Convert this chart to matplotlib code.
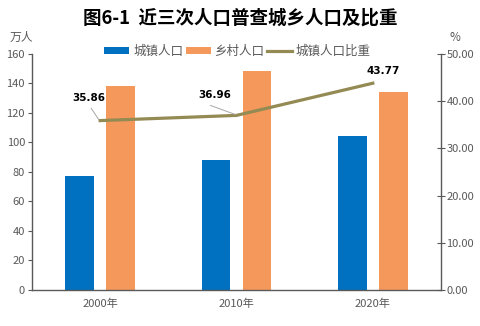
import numpy as np
import matplotlib
matplotlib.use('Agg')
from matplotlib import pyplot as plt

plt.rcParams['font.family'] = ['Noto Sans CJK SC', 'DejaVu Sans']

# data
years = ['2000年', '2010年', '2020年']
urban = [77.2, 87.8, 104.0]
rural = [138.0, 148.6, 133.8]
urban_share = [35.86, 36.96, 43.77]

blue = '#0070C0'
orange = '#F4995B'
olive = '#948A54'
grey = '#595959'

fig = plt.figure(figsize=(4.8, 3.26), dpi=100)
ax = fig.add_axes([0.0667, 0.1104, 0.852, 0.7246])
ax2 = ax.twinx()

x = np.arange(len(years))
w = 0.21
b1 = ax.bar(x - 0.15, urban, w, color=blue, label='城镇人口')
b2 = ax.bar(x + 0.15, rural, w, color=orange, label='乡村人口')
ln, = ax2.plot(x, urban_share, color=olive, lw=2.3, label='城镇人口比重')

ax.set_xlim(-0.5, 2.5)
ax.set_ylim(0, 160)
ax.set_yticks(range(0, 161, 20))
ax2.set_ylim(0, 50)
ax2.set_yticks(range(0, 51, 10))
ax2.set_yticklabels([f'{v:.2f}' for v in range(0, 51, 10)])
ax.set_xticks(x)
ax.set_xticklabels(years)

for a in (ax, ax2):
    a.spines['top'].set_visible(False)
    for s in a.spines.values():
        s.set_color(grey)
        s.set_linewidth(1.0)
ax.spines['right'].set_visible(False)
ax2.spines['left'].set_visible(False)
ax2.spines['bottom'].set_visible(False)
ax.tick_params(axis='y', direction='out', length=3, colors=grey, labelsize=8, pad=2)
ax.tick_params(axis='x', length=0, colors=grey, labelsize=8, pad=6)
ax2.tick_params(axis='y', direction='inout', length=6, colors=grey, labelsize=8, pad=1)

# data labels, offsets relative to the point (category units, percent units)
label_off = [(-0.08, 4.8), (-0.16, 4.3), (0.075, 2.6)]
# leader lines: start offset from the point, None = no leader
leader = [(-0.066, 2.6), (-0.19, 2.1), None]
for i, v in enumerate(urban_share):
    dx, dy = label_off[i]
    ax2.text(x[i] + dx, v + dy, f'{v:.2f}', ha='center', va='center',
             fontsize=7.5, fontweight='bold', color='black', family='DejaVu Sans')
    if leader[i] is not None:
        lx, ly = leader[i]
        ax2.plot([x[i] + lx, x[i] - 0.01], [v + ly, v + 0.2],
                 color='#A6A6A6', lw=0.7)

fig.text(0.5, 0.945, '图6-1  近三次人口普查城乡人口及比重', ha='center', va='center',
         fontsize=13.3, fontweight='bold', color='black')
fig.text(0.045, 0.885, '万人', ha='center', va='center', fontsize=8.5, color=grey)
fig.text(0.948, 0.885, '%', ha='center', va='center', fontsize=8.5, color=grey)

fig.legend([b1, b2, ln], ['城镇人口', '乡村人口', '城镇人口比重'], loc='center',
           bbox_to_anchor=(0.495, 0.843), ncol=3, frameon=False, fontsize=9,
           handlelength=2.0, handleheight=0.5, handletextpad=0.3, columnspacing=0.2,
           labelcolor=grey)

fig.savefig('out.png', dpi=100)
